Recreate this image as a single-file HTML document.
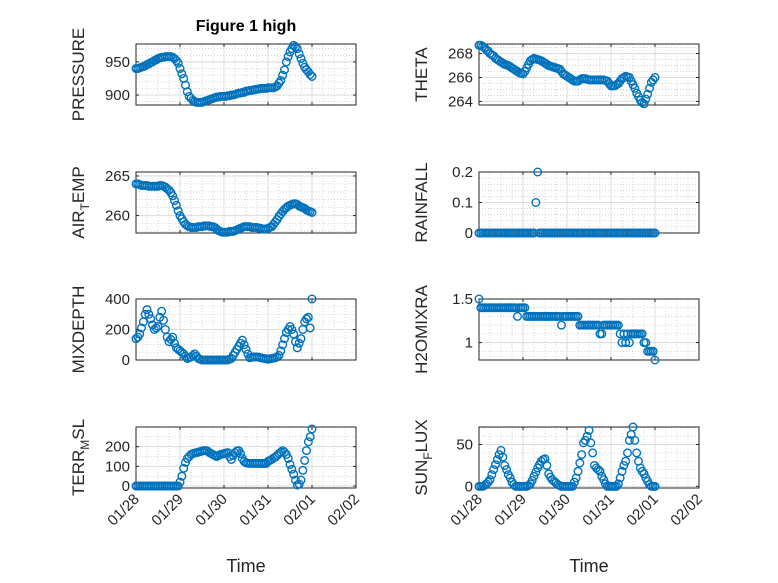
<!DOCTYPE html>
<html><head><meta charset="utf-8"><style>
body{margin:0;background:#fff}
svg{display:block;font-family:"Liberation Sans",sans-serif}
</style></head><body>
<svg id="fig" width="778" height="583" viewBox="0 0 778 583" xmlns="http://www.w3.org/2000/svg">
<rect width="778" height="583" fill="#fff"/>
<text x="246" y="31" text-anchor="middle" font-size="16" font-weight="bold" fill="#000">Figure 1 high</text>
</svg>
<script>
const hours = [0,1,2,3,4,5,6,7,8,9,10,11,12,13,14,15,16,17,18,19,20,21,22,23,24,25,26,27,28,29,30,31,32,33,34,35,36,37,38,39,40,41,42,43,44,45,46,47,48,49,50,51,52,53,54,55,56,57,58,59,60,61,62,63,64,65,66,67,68,69,70,71,72,73,74,75,76,77,78,79,80,81,82,83,84,85,86,87,88,89,90,91,92,93,94,95,96];
const dayTicks = ['01/28','01/29','01/30','01/31','02/01','02/02'];
const pressure = [940,940,941,942,943,944,946,947,949,950,952,953,955,956,957,957,958,958,958,958,957,955,952,948,940,932,925,915,905,898,895,892,890,889,889,889,889,890,891,892,893,894,895,896,897,897,898,898,898,898,899,899,900,900,901,902,903,903,904,904,906,906,907,907,908,908,909,909,910,910,910,910,911,911,911,911,912,914,918,922,930,938,950,958,965,970,975,973,970,962,955,948,942,938,935,931,928];
const airTemp = [264,264,263.9,263.8,263.8,263.8,263.8,263.7,263.7,263.7,263.7,263.7,263.7,263.8,263.8,263.7,263.6,263.4,263.2,262.9,262.5,261.9,261.3,260.6,260,259.6,259.2,258.9,258.7,258.6,258.5,258.5,258.5,258.5,258.6,258.6,258.6,258.7,258.7,258.7,258.7,258.6,258.6,258.5,258.3,258.1,258,257.9,257.9,257.9,257.9,258,258,258,258.1,258.2,258.3,258.4,258.5,258.6,258.6,258.6,258.6,258.5,258.5,258.5,258.5,258.4,258.4,258.3,258.3,258.3,258.4,258.5,258.6,258.9,259.2,259.5,259.9,260.2,260.5,260.8,261,261.2,261.3,261.4,261.5,261.5,261.4,261.2,261.1,261,260.9,260.7,260.6,260.5,260.4];
const theta = [268.7,268.7,268.6,268.5,268.3,268.2,268,267.9,267.8,267.6,267.5,267.4,267.3,267.2,267.1,267.05,267,266.9,266.8,266.7,266.6,266.5,266.4,266.35,266.3,266.5,266.8,267.1,267.4,267.5,267.6,267.55,267.5,267.45,267.4,267.3,267.2,267.1,267,266.95,266.9,266.85,266.8,266.75,266.7,266.5,266.3,266.2,266.1,266,265.9,265.8,265.7,265.7,265.7,265.8,265.9,265.9,265.9,265.85,265.8,265.8,265.8,265.8,265.8,265.8,265.8,265.8,265.8,265.75,265.7,265.5,265.3,265.3,265.3,265.4,265.5,265.7,265.9,266,266.1,266.05,266,265.7,265.4,265.1,264.7,264.4,264.1,263.9,263.8,264.2,264.6,265.1,265.6,265.8,266];
const rainfall = [0,0,0,0,0,0,0,0,0,0, 0,0,0,0,0,0,0,0,0,0, 0,0,0,0,0,0,0,0,0,0, 0,0.1,0.2,0,0,0,0,0,0,0, 0,0,0,0,0,0,0,0,0,0, 0,0,0,0,0,0,0,0,0,0, 0,0,0,0,0,0,0,0,0,0, 0,0,0,0,0,0,0,0,0,0, 0,0,0,0,0,0,0,0,0,0, 0,0,0,0,0,0,0];
const mixDepth = [140,150,170,210,250,300,330,300,270,230, 200,210,220,280,320,260,200,150,120,135, 150,110,80,70,60,50,40,25,10,15, 20,30,40,25,10,5,0,0,0,0, 0,0,0,0,0,0,0,0,0,0, 0,5,10,30,50,70,90,110,130,100, 70,40,15,18,20,20,20,18,15,12, 10,8,5,8,10,12,15,20,30,60, 100,140,180,200,220,200,170,120,80,110, 140,200,250,270,280,210,400];
const h2oMix = [1.5,1.4,1.4,1.4,1.4,1.4,1.4,1.4,1.4,1.4, 1.4,1.4,1.4,1.4,1.4,1.4,1.4,1.4,1.4,1.4, 1.4,1.3,1.4,1.4,1.4,1.4,1.3,1.3,1.3,1.3, 1.3,1.3,1.3,1.3,1.3,1.3,1.3,1.3,1.3,1.3, 1.3,1.3,1.3,1.3,1.3,1.2,1.3,1.3,1.3,1.3, 1.3,1.3,1.3,1.3,1.3,1.2,1.2,1.2,1.2,1.2, 1.2,1.2,1.2,1.2,1.2,1.2,1.1,1.1,1.2,1.2, 1.2,1.2,1.2,1.2,1.2,1.2,1.2,1.1,1.0,1.1, 1.0,1.1,1.0,1.1,1.1,1.1,1.1,1.1,1.1,1.1, 1.0,1.0,0.9,0.9,0.9,0.9,0.8];
const terrMsl = [0,0,0,0,0,0,0,0,0,0, 0,0,0,0,0,0,0,0,0,0, 0,0,0,0,20,50,90,120,140,150, 160,165,168,170,172,175,178,180,180,178, 170,165,160,155,150,155,160,163,165,168, 170,150,135,155,170,178,180,165,140,125, 118,116,115,115,115,115,115,115,115,115, 115,115,125,130,135,142,148,155,165,172, 180,172,160,140,110,85,60,30,5,10, 30,80,130,180,225,250,290];
const sunFlux = [0,0,0,1,3,5,8,14,20,26, 32,38,43,35,25,20,14,10,5,2, 0,0,0,0,0,0,0,1,3,7, 12,17,22,26,30,32,33,25,15,11, 8,6,4,2,1,0,0,0,0,0, 0,0,5,10,18,28,38,52,55,60, 67,52,40,25,22,20,18,12,8,3, 0,0,0,0,0,0,3,10,18,25, 30,40,55,62,71,55,40,30,22,18, 15,10,6,2,0,0,0];
const pressureTicks = [900,950], airTicks=[260,265], thetaTicks=[264,266,268], rainTicks=[0,0.1,0.2], mixTicks=[0,200,400], h2oTicks=[1,1.5], terrTicks=[0,100,200], sunTicks=[0,50];

const NS='http://www.w3.org/2000/svg';
const svg=document.getElementById('fig');
function mk(tag,attrs,parent){const e=document.createElementNS(NS,tag);for(const k in attrs)e.setAttribute(k,attrs[k]);(parent||svg).appendChild(e);return e;}
const LX=136, RX=479, W=220, H=61;
const rowsY=[44,172,299,427];
const panels=[
 {name:'pressure',x:LX,y:rowsY[0],data:pressure,ylim:[885,977],ticks:pressureTicks,minor:10,label:['PRESSURE']},
 {name:'theta',x:RX,y:rowsY[0],data:theta,ylim:[263.7,268.8],ticks:thetaTicks,minor:0.5,label:['THETA']},
 {name:'air-temp',x:LX,y:rowsY[1],data:airTemp,ylim:[257.8,265.5],ticks:airTicks,minor:1,label:['AIR','T','EMP']},
 {name:'rainfall',x:RX,y:rowsY[1],data:rainfall,ylim:[0,0.2],ticks:rainTicks,minor:0.02,label:['RAINFALL']},
 {name:'mixdepth',x:LX,y:rowsY[2],data:mixDepth,ylim:[0,400],ticks:mixTicks,minor:50,label:['MIXDEPTH']},
 {name:'h2omixra',x:RX,y:rowsY[2],data:h2oMix,ylim:[0.8,1.5],ticks:h2oTicks,minor:0.1,label:['H2OMIXRA']},
 {name:'terr-msl',x:LX,y:rowsY[3],data:terrMsl,ylim:[-10,300],ticks:terrTicks,minor:50,label:['TERR','M','SL'],xt:true},
 {name:'sun-flux',x:RX,y:rowsY[3],data:sunFlux,ylim:[-2,71],ticks:sunTicks,minor:10,label:['SUN','F','LUX'],xt:true}
];
panels.forEach(p=>{
  const g=mk('g',{});
  
  
  const xs=h=>p.x+h/120*W;
  const ys=v=>p.y+H-(v-p.ylim[0])/(p.ylim[1]-p.ylim[0])*H;
  for(let h=6;h<120;h+=6){if(h%24)mk('line',{x1:xs(h),x2:xs(h),y1:p.y,y2:p.y+H,stroke:'#bbb','stroke-width':0.6,'stroke-dasharray':'1,2'},g);}
  const m0=Math.ceil(p.ylim[0]/p.minor-1e-9);
  for(let k=m0;k*p.minor<=p.ylim[1]+1e-9;k++){const v=k*p.minor;mk('line',{x1:p.x,x2:p.x+W,y1:ys(v),y2:ys(v),stroke:'#bbb','stroke-width':0.6,'stroke-dasharray':'1,2'},g);}
  for(let d=1;d<5;d++)mk('line',{x1:xs(d*24),x2:xs(d*24),y1:p.y,y2:p.y+H,stroke:'#dcdcdc','stroke-width':1},g);
  p.ticks.forEach(v=>{mk('line',{x1:p.x,x2:p.x+W,y1:ys(v),y2:ys(v),stroke:'#dcdcdc','stroke-width':1},g);
    const t=mk('text',{x:p.x-6,y:ys(v)+5,'text-anchor':'end','font-size':15,fill:'#262626'},g);t.textContent=v;
    mk('line',{x1:p.x,x2:p.x+3,y1:ys(v),y2:ys(v),stroke:'#262626'},g);mk('line',{x1:p.x+W-3,x2:p.x+W,y1:ys(v),y2:ys(v),stroke:'#262626'},g);});
  for(let d=0;d<=5;d++){mk('line',{x1:xs(d*24),x2:xs(d*24),y1:p.y,y2:p.y+3,stroke:'#262626'},g);mk('line',{x1:xs(d*24),x2:xs(d*24),y1:p.y+H-3,y2:p.y+H,stroke:'#262626'},g);
    if(p.xt){const t=mk('text',{transform:`translate(${xs(d*24)+4},${p.y+H+12}) rotate(-45)`,'text-anchor':'end','font-size':15,fill:'#262626'},g);t.textContent=dayTicks[d];
      
      }}
  mk('rect',{x:p.x,y:p.y,width:W,height:H,fill:'none',stroke:'#262626','stroke-width':1},g);
  p.data.forEach((v,i)=>{const c=mk('circle',{cx:xs(hours[i]),cy:ys(v),r:3.8,fill:'none',stroke:'#0072BD','stroke-width':1.4},g);
    
    });
  const lx=p.x===LX?84:427;
  const t=mk('text',{transform:`translate(${lx},${p.y+H/2}) rotate(-90)`,'text-anchor':'middle','font-size':17,fill:'#262626'},g);
  
  
  if(p.label.length===1)t.textContent=p.label[0];
  else{const a=mk('tspan',{},t);a.textContent=p.label[0];const b=mk('tspan',{dy:5,'font-size':12},t);b.textContent=p.label[1];const c=mk('tspan',{dy:-5},t);c.textContent=p.label[2];}
  if(p.xt){const xl=mk('text',{x:p.x+W/2,y:572,'text-anchor':'middle','font-size':18,fill:'#262626'},g);xl.textContent='Time';
    
    }
});
</script>
</body></html>
